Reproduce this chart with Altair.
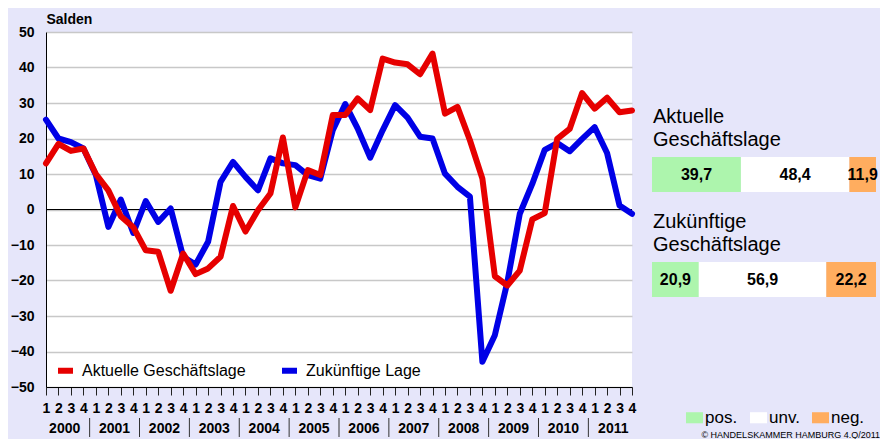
import altair as alt
import pandas as pd

FONT = "Liberation Sans"

# ---------------- data ----------------
years = list(range(2000, 2012))
quarters = [1, 2, 3, 4]
series_names = ["Aktuelle Geschäftslage", "Zukünftige Lage"]

aktuelle = [13.0, 18.5, 16.5, 17.2,
            10.0, 5.4, -1.9, -5.0,
            -11.5, -11.9, -22.9, -12.4,
            -18.2, -16.6, -13.3, 1.0,
            -6.2, -0.2, 4.5, 20.3,
            0.6, 11.1, 9.7, 26.6,
            26.6, 31.3, 28.0, 42.5,
            41.4, 40.9, 38.1, 43.9,
            27.0, 28.9, 19.5, 8.7,
            -18.8, -21.4, -17.2, -2.8,
            -1.0, 19.9, 22.7, 32.8,
            28.4, 31.5, 27.4, 27.9]

zukunft = [25.3, 20.0, 19.0, 17.2,
           9.7, -4.9, 2.8, -6.6,
           2.4, -3.5, 0.3, -13.3,
           -15.5, -9.1, 7.8, 13.4,
           9.2, 5.4, 14.4, 13.0,
           12.5, 9.7, 8.7, 22.3,
           29.7, 22.8, 14.6, 22.3,
           29.4, 25.9, 20.5, 20.0,
           10.1, 6.4, 3.6, -42.9,
           -35.4, -20.5, -1.2, 7.2,
           16.8, 18.7, 16.4, 19.9,
           23.2, 15.9, 1.1, -1.2]

panel_rows = ["Aktuelle Geschäftslage", "Zukünftige Geschäftslage"]
panel_heads = ["Aktuelle\nGeschäftslage", "Zukünftige\nGeschäftslage"]
categories = ["pos.", "unv.", "neg."]
panel_values = [[39.7, 48.4, 11.9],
                [20.9, 56.9, 22.2]]

copyright_text = "© HANDELSKAMMER HAMBURG 4.Q/2011"

RED = "#e60000"
BLUE = "#0000e6"
GREEN = "#adf5ad"
WHITE = "#ffffff"
ORANGE = "#ffad5f"

# ---------------- tables ----------------
line_rows = []
for yi, y in enumerate(years):
    for qi, q in enumerate(quarters):
        k = yi * 4 + qi
        line_rows.append(dict(idx=k, series=series_names[0], value=aktuelle[k]))
        line_rows.append(dict(idx=k, series=series_names[1], value=zukunft[k]))
lines_df = pd.DataFrame(line_rows)

year_df = pd.DataFrame({"idx": [i * 4 + 1.5 for i in range(len(years))],
                        "label": [str(y) for y in years]})
sep_df = pd.DataFrame({"idx": [i * 4 + 3.5 for i in range(len(years) - 1)]})
zero_df = pd.DataFrame({"value": [0]})

bar_rows = []
for row, vals in zip(panel_rows, panel_values):
    start = 0.0
    for cat, v in zip(categories, vals):
        bar_rows.append(dict(row=row, cat=cat, start=start, end=start + v,
                             mid=start + v / 2, label=f"{v:.1f}".replace(".", ",")))
        start += v
bars_df = pd.DataFrame(bar_rows)
heads_df = pd.DataFrame({"row": panel_rows, "head": panel_heads, "start": [0, 0]})
copy_df = pd.DataFrame({"t": [copyright_text]})

# ---------------- main chart ----------------
x_enc = alt.X("idx:Q",
              scale=alt.Scale(domain=[0, 47], nice=False, zero=False),
              axis=alt.Axis(values=list(range(48)), labelExpr="datum.value % 4 + 1",
                            labelOverlap=False, labelFlush=False, grid=False,
                            domainColor="black", domainWidth=1,
                            tickColor="#222222", tickSize=8, tickWidth=1,
                            labelPadding=6, labelFontSize=14, labelFontWeight="bold",
                            labelColor="black", labelFont=FONT, title=None))
y_enc = alt.Y("value:Q",
              scale=alt.Scale(domain=[-50, 50], nice=False),
              axis=alt.Axis(values=list(range(-50, 51, 10)), grid=True,
                            gridColor="#c8c8c8", gridWidth=1.5, ticks=False,
                            domainColor="black", domainWidth=1,
                            labelPadding=12, labelFontSize=14, labelFontWeight="bold",
                            labelColor="black", labelFont=FONT,
                            title="Salden", titleAngle=0, titleAlign="left",
                            titleBaseline="alphabetic", titleX=0, titleY=-9,
                            titleFontSize=14, titleFontWeight="bold", titleFont=FONT,
                            titleColor="black"))

color_enc = alt.Color("series:N",
                      scale=alt.Scale(domain=series_names, range=[RED, BLUE]),
                      legend=alt.Legend(orient="none", legendX=9, legendY=328,
                                        direction="horizontal", title=None,
                                        symbolType="stroke", symbolStrokeWidth=6,
                                        symbolSize=225, labelFontSize=16, labelFont=FONT,
                                        labelColor="black", labelOffset=6, labelLimit=0,
                                        columnPadding=24, padding=0))

base = alt.Chart(lines_df)
zero_rule = alt.Chart(zero_df).mark_rule(color="black", strokeWidth=1).encode(y=y_enc)
blue_line = base.transform_filter(alt.datum.series == series_names[1]).mark_line(
    strokeWidth=6, strokeJoin="round", strokeCap="round").encode(x=x_enc, y=y_enc, color=color_enc)
red_line = base.transform_filter(alt.datum.series == series_names[0]).mark_line(
    strokeWidth=6, strokeJoin="round", strokeCap="round").encode(x=x_enc, y=y_enc, color=color_enc)

year_text = alt.Chart(year_df).mark_text(
    font=FONT, fontSize=14, fontWeight="bold", color="black", baseline="alphabetic",
    align="center").encode(x=x_enc, y=alt.value(401), text="label:N")
seps = alt.Chart(sep_df).mark_rule(color="#333333", strokeWidth=1).encode(
    x=x_enc, y=alt.value(386), y2=alt.value(405))
copy_text = alt.Chart(copy_df).mark_text(
    font=FONT, fontSize=9, color="black", align="right", baseline="alphabetic").encode(
    x=alt.value(834), y=alt.value(406), text="t:N")

main = alt.layer(zero_rule, blue_line, red_line, year_text, seps, copy_text)

# ---------------- right panel ----------------
xb = alt.X("start:Q", scale=alt.Scale(domain=[0, 100], range=[606, 830], nice=False, zero=False),
           axis=None)
yb = alt.Y("row:N", scale=alt.Scale(domain=panel_rows, range=[125, 265],
                                    paddingInner=2 / 3, paddingOuter=0), axis=None)

bars = alt.Chart(bars_df).mark_bar(strokeWidth=0).encode(
    x=xb, x2="end:Q", y=yb,
    fill=alt.Fill("cat:N", scale=alt.Scale(domain=categories, range=[GREEN, WHITE, ORANGE]),
                  legend=alt.Legend(orient="none", legendX=640, legendY=377,
                                    direction="horizontal", title=None,
                                    symbolType="M-1,-0.65H1V0.65H-1Z", symbolSize=289,
                                    symbolStrokeWidth=0, symbolOpacity=1,
                                    labelFontSize=17, labelFont=FONT, labelColor="black",
                                    labelOffset=2, columnPadding=12, padding=0)))
vals = alt.Chart(bars_df).mark_text(
    font=FONT, fontSize=16, fontWeight="bold", color="black", baseline="middle",
    align="center").encode(x=alt.X("mid:Q", axis=None), y=yb, text="label:N")
heads = alt.Chart(heads_df).mark_text(
    font=FONT, fontSize=20, color="black", align="left", baseline="alphabetic",
    lineBreak="\n", lineHeight=23, dy=-52, dx=1).encode(x=xb, y=yb, text="head:N")

panel = alt.layer(bars, vals, heads)

chart = alt.layer(main, panel).resolve_scale(x="independent", y="independent").properties(
    width=586, height=355,
    padding={"left": 38, "top": 24, "right": 248, "bottom": 52},
    autosize=alt.AutoSizeParams(type="none"),
).configure(background="#e6e6fa", font=FONT).configure_view(fill="white", stroke=None)

chart.save("out.html", embed_options={"renderer": "svg", "actions": False})
